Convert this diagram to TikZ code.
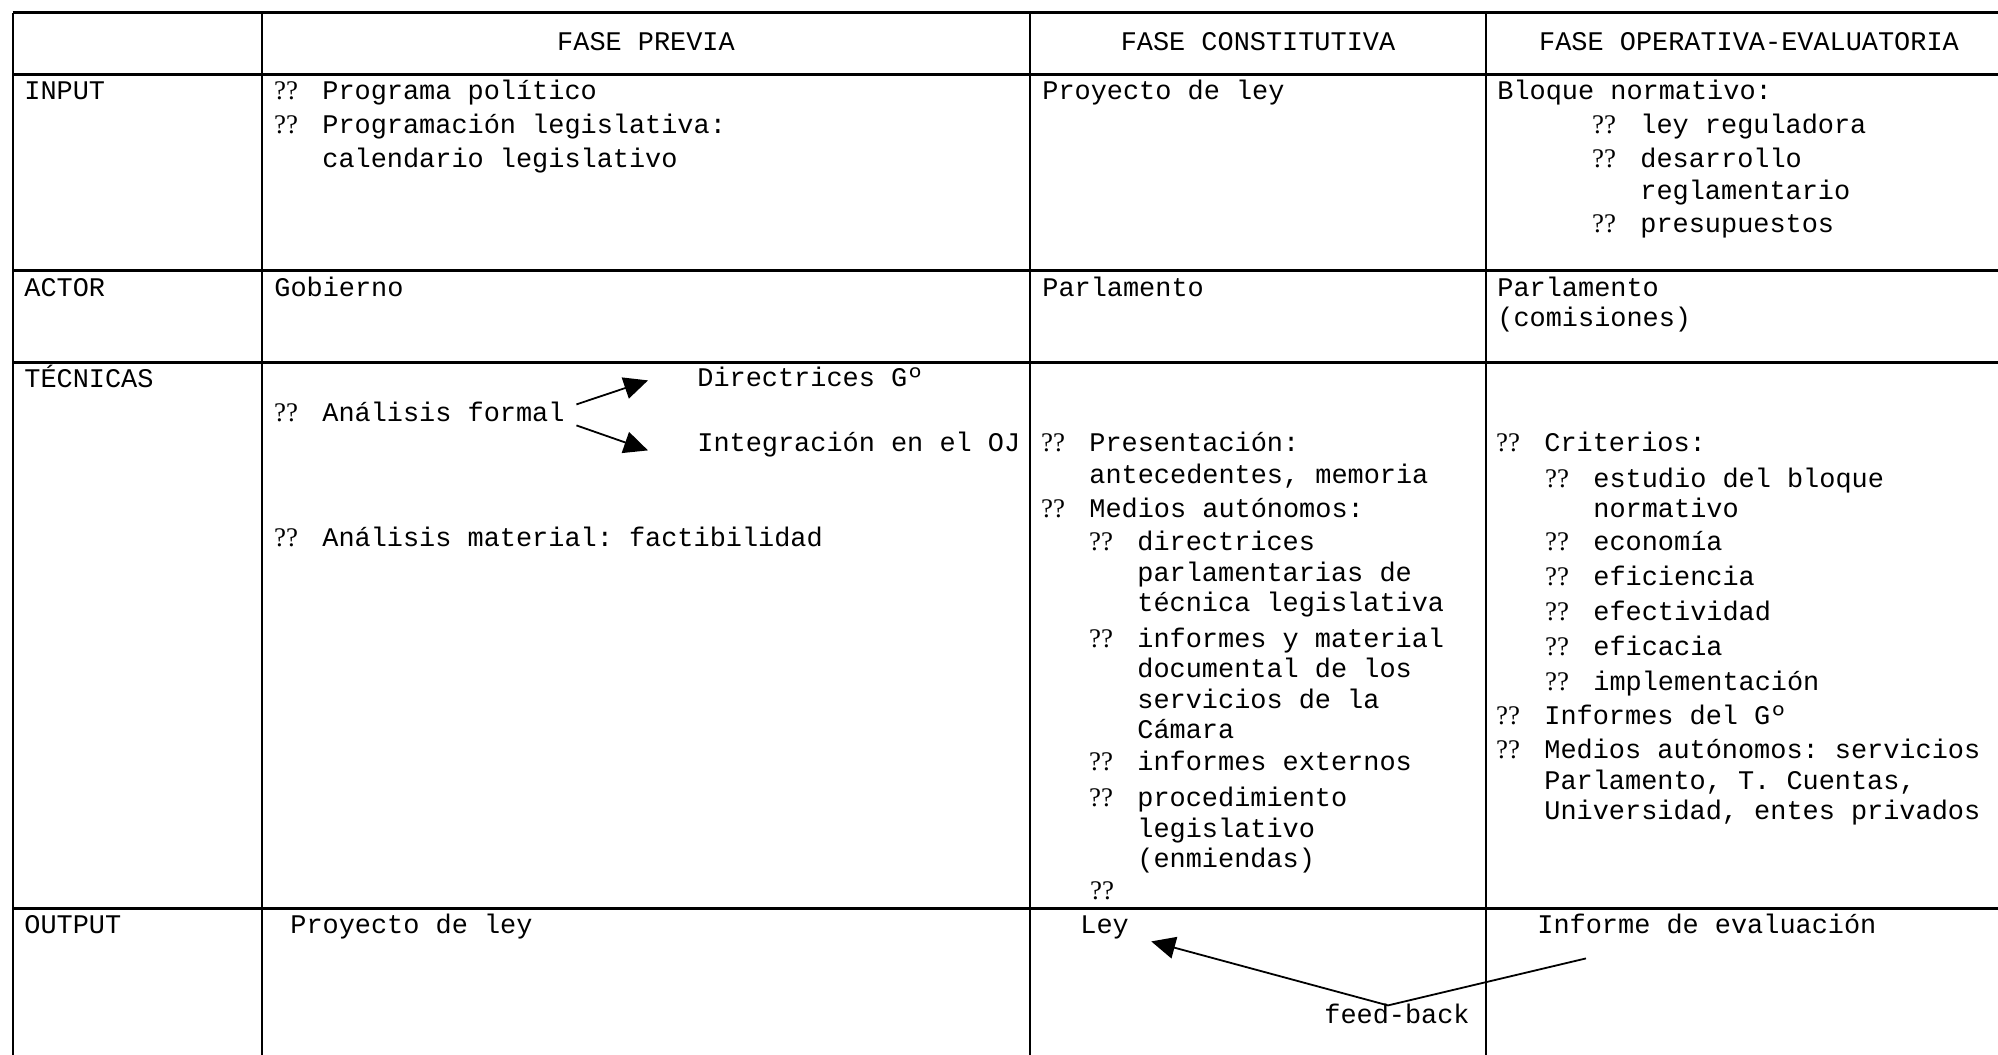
\documentclass[tikz,border=0pt]{standalone}
\usepackage{fontspec}
\setmainfont[WordSpace={1,0,0}]{Liberation Mono}
\newfontfamily\qfont{Liberation Serif}
\usetikzlibrary{arrows.meta, calc}
\newcommand{\qq}{\llap{\makebox[24.15pt][l]{\qfont ??}}}
\tikzset{%
    rul/.style={line width = 1.5pt},
    rulv/.style={line width = 1.2pt},
    txt/.style={anchor=base west, inner sep=0pt},
    itm/.style={txt, text width=500pt, execute at begin node={\spaceskip=0pt\relax\xspaceskip=0pt\relax}},
    hdr/.style={anchor=base, inner sep=0pt},
    lin/.style={line width = 0.9pt},
    arr/.style={line width = 0.9pt, -{Triangle[length=12pt, width=11pt]}},
    every node/.style={font=\fontsize{13.45pt}{15.25pt}\selectfont\frenchspacing},
}
\begin{document}
\begin{tikzpicture}[x=0.5pt, y=-0.5pt]
    \useasboundingbox (0,0) rectangle (1998,1055);
    \clip (0,0) rectangle (1998,1055);
    \foreach \y in {12.7,74,270.5,362,908} \draw [rul] (12.7,\y) -- (2016,\y);
    \foreach \x in {12.7,262,1030,1486} \draw [rulv] (\x,12.7) -- (\x,1080);
    \node [hdr] (h1) at (646,50) {FASE PREVIA};
    \node [hdr] (h2) at (1258,50) {FASE CONSTITUTIVA};
    \node [hdr] (h3) at (1749,50) {FASE OPERATIVA-EVALUATORIA};
    \begin{scope}[yshift=-1.2pt]
    \node [txt] (input) at (24,97) {INPUT};
    \node [txt] (actor) at (24,294) {ACTOR};
    \node [txt] (tecn) at (24,385) {TÉCNICAS};
    \node [txt] (output) at (24,931) {OUTPUT};
    % input
    \node [txt] (prog) at (322,97) {\qq Programa político};
    \node [itm] (progl) at (322,131) {\qq Programación legislativa:\\[1.75pt]calendario legislativo};
    \node [txt] (proyl) at (1042,97) {Proyecto de ley};
    \node [txt] (bloq) at (1497,97) {Bloque normativo:};
    \node [txt] (lreg) at (1640,131) {\qq ley reguladora};
    \node [itm] (desr) at (1640,165) {\qq desarrollo\\[0.75pt]reglamentario};
    \node [txt] (pres) at (1640,230) {\qq presupuestos};
    % actor
    \node [txt] (gob) at (274,294) {Gobierno};
    \node [txt] (parl) at (1042,294) {Parlamento};
    \node [itm] (parlc) at (1497,294) {Parlamento\\(comisiones)};
    % tecnicas
    \node [txt] (dirg) at (697,384) {Directrices Gº};
    \node [txt] (afor) at (322,419) {\qq Análisis formal};
    \node [txt] (inoj) at (697,449) {Integración en el OJ};
    \node [txt] (amat) at (322,544) {\qq Análisis material: factibilidad};
    \draw [arr] ([shift={(11.5,-17)}]afor.base east) -- ([shift={(-49,-6)}]dirg.base west);
    \draw [arr] ([shift={(11.5,4)}]afor.base east) -- ([shift={(-49,-1)}]inoj.base west);
    \node [itm] (prst) at (1089,449) {\qq Presentación:\\[0.75pt]antecedentes, memoria};
    \node [txt] (medc) at (1089,515) {\qq Medios autónomos:};
    \node [itm] (dirp) at (1137,548.5) {\qq directrices\\parlamentarias de\\técnica legislativa};
    \node [itm] (infm) at (1137,645) {\qq informes y material\\documental de los\\servicios de la\\Cámara};
    \node [txt] (infx) at (1137,768.5) {\qq informes externos};
    \node [itm] (proc) at (1137,804.5) {\qq procedimiento\\legislativo\\(enmiendas)};
    \node [txt] (vacio) at (1137,897.5) {\qq};
    \node [txt] (crit) at (1544,449) {\qq Criterios:};
    \node [itm] (estb) at (1593,485) {\qq estudio del bloque\\normativo};
    \foreach \t [count=\i] in {economía,eficiencia,efectividad,eficacia,implementación}
        \node [txt] (cr\i) at (1593,{548+35*(\i-1)}) {\qq \t};
    \node [txt] (infg) at (1544,722) {\qq Informes del Gº};
    \node [itm] (meda) at (1544,756.5) {\qq Medios autónomos: servicios\\Parlamento, T. Cuentas,\\Universidad, entes privados};
    % output
    \node [txt] (proyo) at (290,931) {Proyecto de ley};
    \node [txt] (ley) at (1080,931) {Ley};
    \node [txt] (infev) at (1537,931) {Informe de evaluación};
    \node [hdr] (fb) at (1397,1021.5) {feed-back};
    \coordinate (fbk) at ([shift={(-9,-18.5)}]fb.base);
    \draw [arr] (fbk) -- ([shift={(22,8)}]ley.base east);
    \draw [lin] (fbk) -- ([shift={(49,25)}]infev.base west);
    \end{scope}
\end{tikzpicture}
\end{document}
